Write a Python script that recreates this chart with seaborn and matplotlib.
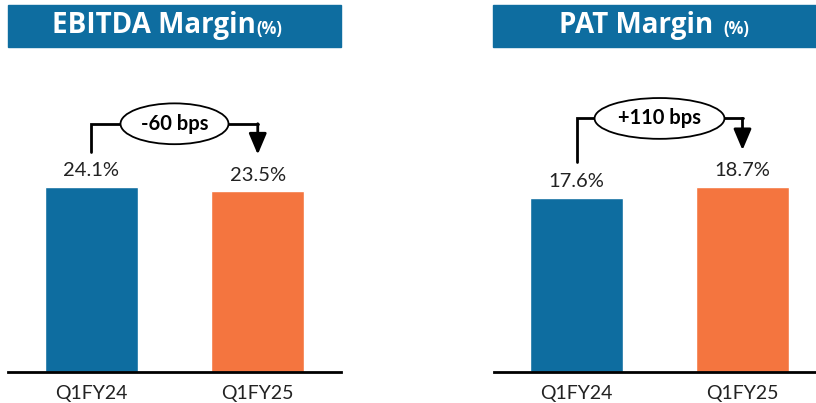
import matplotlib.pyplot as plt
import seaborn as sns
from matplotlib.patches import Rectangle

periods = ["Q1FY24", "Q1FY25"]
ebitda_margin = [24.1, 23.5]
pat_margin = [17.6, 18.7]
ebitda_change = "-60 bps"
pat_change = "+110 bps"

BLUE = "#0E6DA0"
ORANGE = "#F4753F"

sns.set_theme(style="white")
plt.rcParams["font.family"] = ["Lato", "DejaVu Sans"]

fig = plt.figure(figsize=(8.16, 4.03), dpi=100)
W, H = 816, 403


def px_axes(x0, x1, y_top, y_base):
    return fig.add_axes([x0 / W, (H - y_base) / H, (x1 - x0) / W, (y_base - y_top) / H])


def draw_panel(ax, values, ymax, change, rise):
    sns.barplot(x=periods, y=values, hue=periods, palette=[BLUE, ORANGE],
                width=0.56, legend=False, ax=ax, saturation=1)
    ax.set_xlim(-0.5, 1.5)
    ax.set_ylim(0, ymax)
    ax.set_yticks([])
    ax.set_ylabel("")
    ax.set_xlabel("")
    for side in ["top", "right", "left"]:
        ax.spines[side].set_visible(False)
    ax.spines["bottom"].set_color("black")
    ax.spines["bottom"].set_linewidth(2)
    ax.tick_params(axis="x", length=0, pad=9, labelsize=14)
    for lab in ax.get_xticklabels():
        lab.set_color("#222222")

    # value labels
    for i, v in enumerate(values):
        ax.text(i, v + ymax * 0.025, f"{v}%", ha="center", va="bottom",
                fontsize=14.5, color="#222222")

    # change bracket
    start = values[0] + rise[0]
    top = max(values) + rise[1]
    tip = values[1] + rise[2]
    ax.plot([0, 0, 1], [start, top, top], color="black", lw=2, clip_on=False,
            solid_joinstyle="miter")
    ax.annotate("", xy=(1, tip), xytext=(1, top + 0.01),
                arrowprops=dict(arrowstyle="-|>,head_length=0.85,head_width=0.36",
                                color="black", lw=2, mutation_scale=15,
                                shrinkA=0, shrinkB=0))
    ax.text(0.5, top, change, ha="center", va="center", fontsize=14.5,
            fontweight="bold", color="black", zorder=5,
            bbox=dict(boxstyle="ellipse,pad=0.22", fc="white", ec="black", lw=1.3))


def title_box(x0, x1, main, sub, sub_gap, shift):
    fig.patches.append(Rectangle((x0 / W, 1 - 47 / H), (x1 - x0) / W, 42 / H,
                                 transform=fig.transFigure, color=BLUE, zorder=0))
    t = fig.text((x0 + x1) / 2 / W - shift, 1 - 26 / H, main, ha="center", va="center",
                 fontsize=20, fontweight="bold", color="white", family="Open Sans")
    fig.canvas.draw()
    bb = t.get_window_extent()
    fig.text(bb.x1 / W + sub_gap, 1 - 29 / H, sub, ha="left", va="center",
             fontsize=12, fontweight="bold", color="white", family="Open Sans")


ax1 = px_axes(8, 341, 60, 372)
draw_panel(ax1, ebitda_margin, 40.6, ebitda_change, (4.5, 8.2, 4.8))

ax2 = px_axes(493.5, 825.5, 60, 372)
draw_panel(ax2, pat_margin, 31.5, pat_change, (3.6, 6.9, 3.7))

title_box(8, 341, "EBITDA Margin", "(%)", 0.0, 0.025)
title_box(493, 816, "PAT Margin", "(%)", 0.012, 0.022)

fig.savefig("out.png", dpi=100)
